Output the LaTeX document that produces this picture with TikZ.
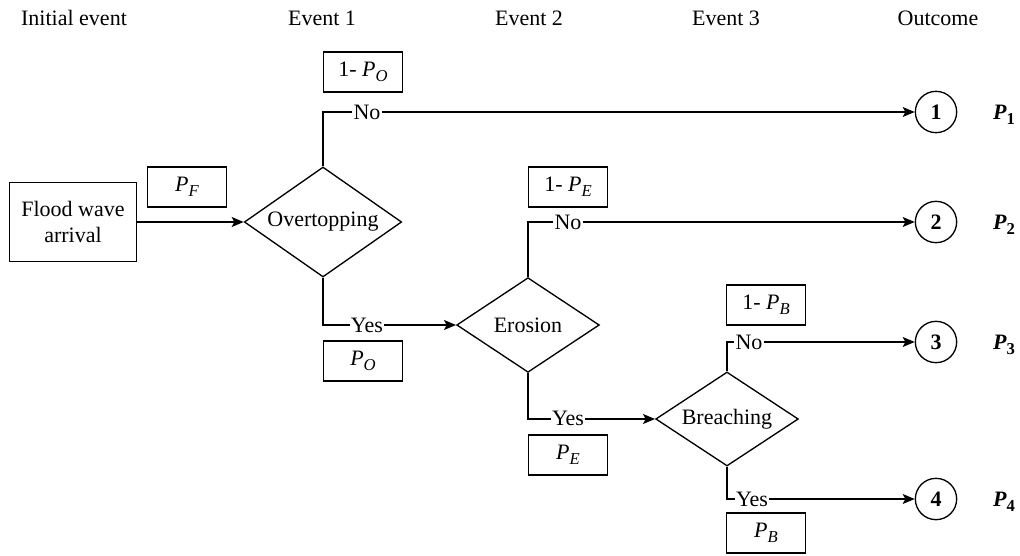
\documentclass[tikz,border=0pt]{standalone}
\usepackage{fontspec}
\setmainfont{Liberation Serif}
\usetikzlibrary{shapes.geometric,arrows.meta}
\newcommand{\pv}[1]{\textit{P}\raisebox{-0.45ex}{\fontsize{12.5}{12}\selectfont\itshape #1}}
\newcommand{\pb}[1]{{\bfseries\itshape P}\raisebox{-0.45ex}{\fontsize{12.5}{12}\selectfont\bfseries #1}}
\begin{document}
\begin{tikzpicture}[x=0.75pt,y=-0.75pt,
  every node/.style={font=\fontsize{16.5}{19}\selectfont},
  arr/.style={line width=1pt,-{Stealth[length=9pt,width=7.5pt,inset=2pt]}},
  rbox/.style={draw,line width=1pt,minimum width=59.5pt,minimum height=30pt,inner sep=0pt},
  dec/.style={draw,line width=1pt,shape=diamond,inner sep=0pt},
  outc/.style={draw,circle,line width=1pt,minimum size=31pt,inner sep=0pt,font=\fontsize{16.5}{19}\selectfont\bfseries},
  lab/.style={fill=white,inner sep=1pt},
  head/.style={anchor=base}]
\useasboundingbox (0,0) rectangle (1020,556);
% headers
\node[head] (h0) at (74,26) {Initial event};
\node[head] (h1) at (322,26) {Event 1};
\node[head] (h2) at (529,26) {Event 2};
\node[head] (h3) at (726,26) {Event 3};
\node[head] (h4) at (938,26) {Outcome};
% nodes
\node[draw,line width=1pt,minimum width=95pt,minimum height=59pt,align=center,inner sep=0pt] (flood) at (73,222) {Flood wave\\arrival};
\node[rbox] (pf) at (187,187) {\pv{F}};
\node[dec,aspect=1.43,minimum width=118pt,minimum height=82.5pt] (over) at (323,222) {Overtopping};
\node[rbox] (po1) at (363,72) {1- \pv{O}};
\node[rbox] (po) at (363,361) {\pv{O}};
\node[dec,aspect=1.5,minimum width=107pt,minimum height=71pt] (ero) at (528,325) {Erosion};
\node[rbox] (pe1) at (568,187) {1- \pv{E}};
\node[rbox] (pe) at (568,455) {\pv{E}};
\node[dec,aspect=1.52,minimum width=107pt,minimum height=70.5pt] (br) at (727,419) {Breaching};
\node[rbox] (pb1) at (766,305) {1- \pv{B}};
\node[rbox] (pbb) at (766,533) {\pv{B}};
% outcomes
\node[outc] (c1) at (936,112) {1};
\node[outc] (c2) at (936,222) {2};
\node[outc] (c3) at (936,342) {3};
\node[outc] (c4) at (936,499) {4};
\node (p1) at (1004,115) {\pb{1}};
\node (p2) at (1004,225) {\pb{2}};
\node (p3) at (1004,345) {\pb{3}};
\node (p4) at (1004,502) {\pb{4}};
% connectors
\draw[arr] (flood.east) -- (over.west);
\draw[arr] (over.north) |- (c1.west);
\draw[arr] (over.south) |- (ero.west);
\draw[arr] (ero.north) |- (c2.west);
\draw[arr] (ero.south) |- (br.west);
\draw[arr] (br.north) |- (c3.west);
\draw[arr] (br.south) |- (c4.west);
% branch labels
\node[lab] (n1) at (367,112) {No};
\node[lab] (y1) at (367,325) {Yes};
\node[lab] (n2) at (568,222) {No};
\node[lab] (y2) at (568,418) {Yes};
\node[lab] (n3) at (749,342) {No};
\node[lab] (y3) at (752,499) {Yes};
\end{tikzpicture}
\end{document}
